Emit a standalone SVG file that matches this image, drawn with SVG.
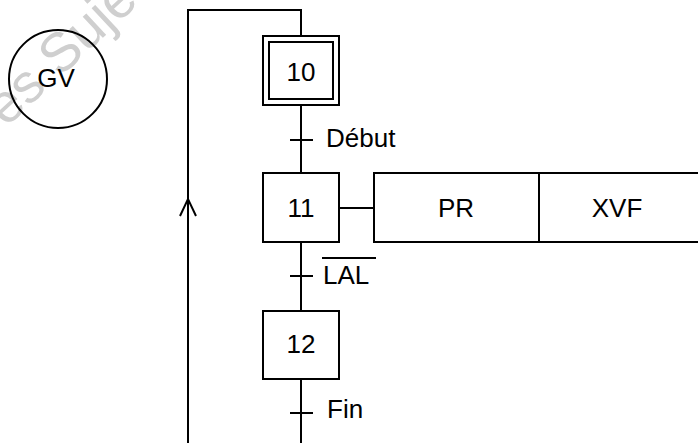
<svg xmlns="http://www.w3.org/2000/svg" width="698" height="443" viewBox="0 0 698 443">
<style>
.l{fill:none;stroke:#000;stroke-width:2}
.t{font-family:"Liberation Sans",Arial,sans-serif;font-size:26px;fill:#000}
.c{text-anchor:middle}
.wm{font-family:"Liberation Sans",Arial,sans-serif;font-size:55px;fill:#cfcfcf}
</style>
<rect width="698" height="443" fill="#fff"/>
<text class="wm" transform="translate(6,128) rotate(-43)">es Suje</text>
<g id="gv">
<circle class="l" cx="58" cy="79" r="49"/>
<text class="t c" x="56" y="87">GV</text>
</g>
<g id="connectors">
<polyline class="l" points="188,443 188,10 301,10 301,36"/>
<polyline class="l" points="180,216 188,199 196,216"/>
<line class="l" x1="301" y1="105" x2="301" y2="173"/>
<line class="l" x1="290" y1="140" x2="313" y2="140"/>
<line class="l" x1="301" y1="242" x2="301" y2="311"/>
<line class="l" x1="290" y1="276" x2="313" y2="276"/>
<line class="l" x1="301" y1="379" x2="301" y2="443"/>
<line class="l" x1="290" y1="413" x2="313" y2="413"/>
<line class="l" x1="339" y1="208" x2="374" y2="208"/>
</g>
<g id="step10">
<rect class="l" x="263" y="36" width="76" height="69"/>
<rect class="l" x="269" y="42" width="64" height="57"/>
<text class="t c" x="301" y="81">10</text>
</g>
<g id="t-debut"><text class="t" x="326" y="147">Début</text></g>
<g id="step11">
<rect class="l" x="263" y="173" width="76" height="69"/>
<text class="t c" x="301" y="217">11</text>
</g>
<g id="action">
<rect class="l" x="374" y="173" width="340" height="69"/>
<line class="l" x1="539" y1="173" x2="539" y2="242"/>
<text class="t c" x="456" y="217">PR</text>
<text class="t c" x="617" y="217">XVF</text>
</g>
<g id="t-lal">
<text class="t" x="323" y="284">LAL</text>
<line class="l" x1="322" y1="258" x2="376" y2="258"/>
</g>
<g id="step12">
<rect class="l" x="263" y="311" width="76" height="68"/>
<text class="t c" x="301" y="353">12</text>
</g>
<g id="t-fin"><text class="t" x="327" y="418">Fin</text></g>
</svg>
